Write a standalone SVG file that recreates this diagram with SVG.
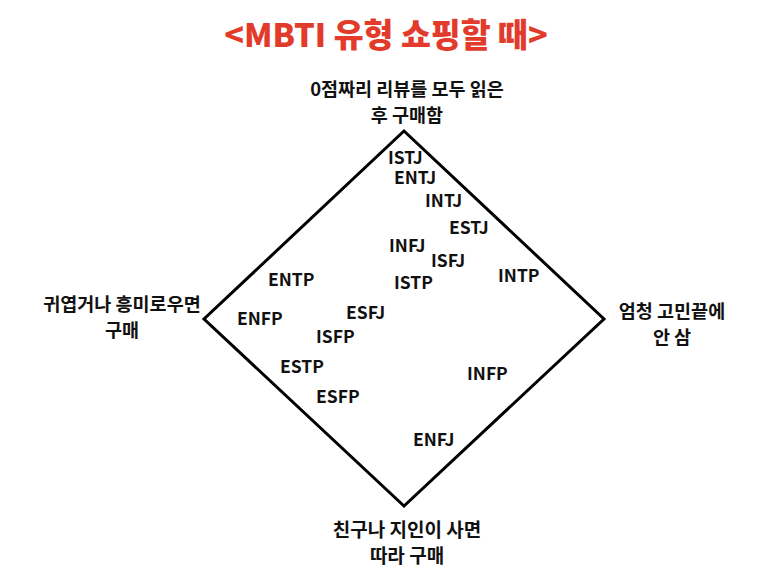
<svg xmlns="http://www.w3.org/2000/svg" width="773" height="575" viewBox="0 0 773 575">
<style>
text { font-family: "Noto Sans CJK KR", "Noto Sans", sans-serif; font-weight: bold; fill: #111; }
.title { font-size: 32.5px; fill: #e23b2b; font-weight: 900; }
.lbl { font-size: 18.5px; text-anchor: middle; }
.lblb { font-size: 19px; text-anchor: middle; }
.t { font-size: 17.5px; }
.edge { fill: none; stroke: #000; stroke-width: 3; stroke-linejoin: miter; }
</style>
<rect width="773" height="575" fill="#fff"/>
<g id="title"><text class="title" x="386" y="47" text-anchor="middle">&lt;MBTI 유형 쇼핑할 때&gt;</text></g>
<g id="connectors">
<polygon class="edge" points="404,131 604,319 404,506 204,319"/>
</g>
<g id="top-label"><text class="lbl" x="407" y="96">0점짜리 리뷰를 모두 읽은</text><text class="lbl" x="407" y="121.5">후 구매함</text></g>
<g id="left-label"><text class="lbl" x="122" y="311">귀엽거나 흥미로우면</text><text class="lbl" x="122" y="336.5">구매</text></g>
<g id="right-label"><text class="lbl" x="672" y="318">엄청 고민끝에</text><text class="lbl" x="672" y="343.5">안 삼</text></g>
<g id="bottom-label"><text class="lblb" x="407" y="537">친구나 지인이 사면</text><text class="lblb" x="407" y="563">따라 구매</text></g>
<g id="types">
<g id="ISTJ"><text class="t" x="388" y="163.5">ISTJ</text></g>
<g id="ENTJ"><text class="t" x="394" y="184">ENTJ</text></g>
<g id="INTJ"><text class="t" x="425" y="207">INTJ</text></g>
<g id="ESTJ"><text class="t" x="449" y="234">ESTJ</text></g>
<g id="INFJ"><text class="t" x="389" y="252">INFJ</text></g>
<g id="ISFJ"><text class="t" x="431" y="267">ISFJ</text></g>
<g id="ENTP"><text class="t" x="268" y="286">ENTP</text></g>
<g id="ISTP"><text class="t" x="394" y="289">ISTP</text></g>
<g id="INTP"><text class="t" x="498" y="282">INTP</text></g>
<g id="ENFP"><text class="t" x="237" y="325">ENFP</text></g>
<g id="ESFJ"><text class="t" x="346" y="319">ESFJ</text></g>
<g id="ISFP"><text class="t" x="316" y="343">ISFP</text></g>
<g id="ESTP"><text class="t" x="280" y="373">ESTP</text></g>
<g id="ESFP"><text class="t" x="316" y="403">ESFP</text></g>
<g id="INFP"><text class="t" x="467" y="380">INFP</text></g>
<g id="ENFJ"><text class="t" x="413" y="446">ENFJ</text></g>
</g>
</svg>
